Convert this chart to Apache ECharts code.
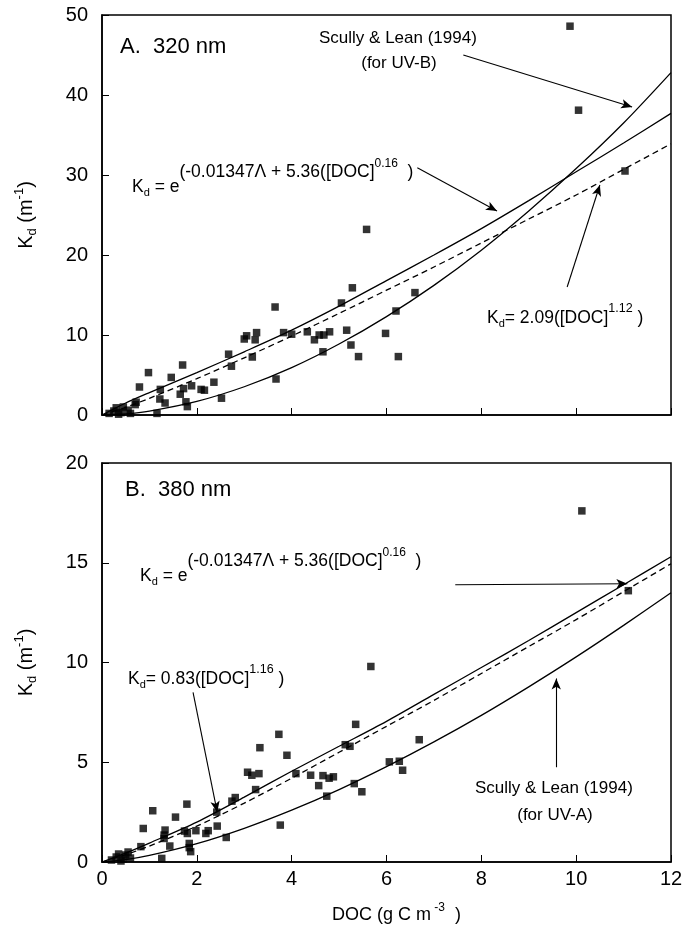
<!DOCTYPE html>
<html>
<head>
<meta charset="utf-8">
<script src="https://cdn.jsdelivr.net/npm/echarts@6/dist/echarts.min.js"></script>
<style>
  html, body { margin: 0; padding: 0; background: #fff; }
  #chart { width: 700px; height: 941px; }
</style>
</head>
<body>
<div id="chart"></div>
<script>
const FONT = '"Liberation Sans", Arial, Helvetica, sans-serif';

const curveDoc = [0, 0.5, 1, 2, 3, 4, 5, 6, 7, 8, 9, 10, 11, 12];

// panel A, 320 nm
const expA = [0, 1.5, 2.8, 5.3, 7.9, 10.6, 13.6, 16.8, 20.0, 23.3, 26.8, 30.4, 34.0, 37.7];
const powA = [0, 0.96, 2.09, 4.54, 7.15, 9.87, 12.7, 15.6, 18.5, 21.5, 24.5, 27.5, 30.7, 33.9];
const scullyA = [0, 0.14, 0.49, 1.70, 3.53, 5.92, 8.87, 12.3, 16.2, 20.6, 25.5, 30.8, 36.5, 42.8];
const pointsA = [
  [0.15, 0.2], [0.25, 0.5], [0.3, 0.9], [0.4, 0.3], [0.45, 1.0], [0.55, 0.6], [0.6, 0.2], [0.7, 1.3], [0.35, 0.1],
  [0.72, 1.6], [0.79, 3.5], [0.98, 5.3], [1.16, 0.2], [1.22, 2.0], [1.23, 3.2], [1.33, 1.5], [1.46, 4.7],
  [1.65, 2.6], [1.70, 6.25], [1.72, 3.3], [1.77, 1.65], [1.80, 1.05], [1.89, 3.65], [2.09, 3.2], [2.16, 3.1],
  [2.36, 4.1], [2.52, 2.1], [2.67, 7.6], [2.73, 6.1], [3.0, 9.5], [3.05, 9.9], [3.17, 7.25], [3.23, 9.4],
  [3.26, 10.3], [3.65, 13.5], [3.67, 4.5], [3.83, 10.3], [4.0, 10.1], [4.33, 10.4], [4.48, 9.4], [4.58, 10.0],
  [4.66, 7.9], [4.68, 10.0], [4.80, 10.4], [5.05, 14.0], [5.16, 10.6], [5.25, 8.75], [5.28, 15.9], [5.41, 7.3],
  [5.58, 23.2], [5.98, 10.2], [6.20, 13.0], [6.25, 7.3], [6.60, 15.3], [9.87, 48.6], [10.05, 38.1], [11.03, 30.5]
];

// panel B, 380 nm
const expB = [0, 0.45, 0.95, 2.0, 3.25, 4.55, 5.8, 7.05, 8.4, 9.75, 11.1, 12.5, 13.9, 15.3];
const powB = [0, 0.37, 0.8, 1.8, 2.95, 4.2, 5.5, 6.8, 8.1, 9.45, 10.8, 12.15, 13.55, 14.95];
const scullyB = [0, 0.12, 0.33, 0.92, 1.69, 2.6, 3.63, 4.78, 6.02, 7.35, 8.78, 10.28, 11.86, 13.5];
const pointsB = [
  [0.2, 0.1], [0.3, 0.25], [0.35, 0.4], [0.45, 0.15], [0.5, 0.35], [0.6, 0.2], [0.4, 0.05], [0.55, 0.5],
  [0.82, 0.77], [0.87, 1.68], [1.07, 2.57], [1.26, 0.18], [1.31, 1.18], [1.31, 1.35], [1.33, 1.6], [1.43, 0.8],
  [1.55, 2.25], [1.74, 1.55], [1.79, 2.9], [1.80, 1.43], [1.84, 0.93], [1.84, 0.72], [1.87, 0.52], [1.98, 1.57],
  [2.19, 1.43], [2.24, 1.57], [2.42, 2.5], [2.43, 1.8], [2.62, 1.23], [2.74, 3.05], [2.81, 3.23], [3.07, 4.5],
  [3.16, 4.35], [3.24, 3.63], [3.31, 4.43], [3.33, 5.73], [3.73, 6.4], [3.76, 1.85], [3.90, 5.35], [4.09, 4.43],
  [4.40, 4.35], [4.57, 3.83], [4.66, 4.33], [4.74, 3.3], [4.79, 4.2], [4.88, 4.27], [5.13, 5.88], [5.23, 5.8],
  [5.32, 3.93], [5.35, 6.9], [5.48, 3.52], [5.67, 9.8], [6.06, 5.02], [6.27, 5.05], [6.34, 4.6], [6.69, 6.13],
  [10.12, 17.6], [11.1, 13.6]
];

// annotation arrows, [from, to] in data units
const arrowsA = [
  [[7.62, 45.0], [11.18, 38.5]],
  [[6.65, 30.9], [8.33, 25.5]],
  [[9.81, 16.0], [10.5, 28.75]]
];
const arrowsB = [
  [[7.45, 13.9], [11.08, 13.95]],
  [[1.92, 8.5], [2.43, 2.5]],
  [[9.58, 4.75], [9.58, 9.2]]
];

const pair = (xs, ys) => xs.map((x, i) => [x, ys[i]]);

const rich = {
  m: { fontSize: 17.5, fontFamily: FONT, color: '#000' },
  sub: { fontSize: 11, fontFamily: FONT, color: '#000', padding: [11, 0, 0, 0] },
  sp: { fontSize: 17.5, fontFamily: FONT, color: '#000', padding: [0, 0, 30, 0] },
  ss: { fontSize: 12, fontFamily: FONT, color: '#000', padding: [0, 0, 46, 0] },
  s2: { fontSize: 12.5, fontFamily: FONT, color: '#000', padding: [0, 0, 18, 0] }
};
const axisRich = {
  m: { fontSize: 20, fontFamily: FONT, color: '#000' },
  sub: { fontSize: 13, fontFamily: FONT, color: '#000', padding: [12, 0, 0, 0] },
  sup: { fontSize: 13, fontFamily: FONT, color: '#000', padding: [0, 0, 14, 0] }
};

const expText = '{m|K}{sub|d}{m| = e}{sp|(-0.01347Λ + 5.36([DOC]}{ss|0.16}{sp|  )}';

function txt(x, y, text, size, align) {
  return {
    type: 'text', x: x, y: y, silent: true,
    style: { text: text, rich: rich, font: size + 'px ' + FONT, fill: '#000',
             align: align || 'left', verticalAlign: 'middle' }
  };
}

function curve(x, y, data, dashed) {
  return {
    type: 'line', xAxisIndex: x, yAxisIndex: y, data: data, smooth: 0.3,
    showSymbol: false, silent: true,
    lineStyle: { color: '#000', width: 1.3, type: dashed ? [6, 4] : 'solid' }
  };
}

function arrows(list) {
  return {
    silent: true, symbol: ['none', 'arrow'], symbolSize: [7, 11],
    label: { show: false },
    lineStyle: { color: '#000', width: 1.1, type: 'solid' },
    data: list.map(a => [{ coord: a[0] }, { coord: a[1] }])
  };
}

const xAxisBase = {
  type: 'value', min: 0, max: 12, interval: 2,
  axisLine: { lineStyle: { color: '#000', width: 1.5 } },
  axisTick: { inside: true, length: 7, lineStyle: { color: '#000' } },
  splitLine: { show: false }
};
const yAxisBase = {
  type: 'value', min: 0,
  axisLine: { show: true, lineStyle: { color: '#000', width: 1.5 } },
  axisTick: { show: true, inside: true, length: 7, lineStyle: { color: '#000' } },
  axisLabel: { fontSize: 20, fontFamily: FONT, color: '#000', margin: 14 },
  splitLine: { show: false },
  name: '{m|K}{sub|d}{m| (m}{sup|-1}{m|)}', nameLocation: 'middle', nameGap: 62,
  nameTextStyle: { rich: axisRich }
};

const chart = echarts.init(document.getElementById('chart'));
chart.setOption({
  animation: false,
  backgroundColor: '#fff',
  grid: [
    { left: 102, top: 15, width: 569, height: 400, show: true, borderColor: '#000', borderWidth: 1.5 },
    { left: 102, top: 463, width: 569, height: 399, show: true, borderColor: '#000', borderWidth: 1.5 }
  ],
  xAxis: [
    Object.assign({}, xAxisBase, { gridIndex: 0, axisLabel: { show: false } }),
    Object.assign({}, xAxisBase, {
      gridIndex: 1,
      axisLabel: { fontSize: 20, fontFamily: FONT, color: '#000', margin: 7 },
      name: '{m|DOC (g C m}{sup| -3}{m|  )}', nameLocation: 'middle', nameGap: 40,
      nameTextStyle: { rich: { m: { fontSize: 18, fontFamily: FONT, color: '#000' },
                               sup: { fontSize: 12, fontFamily: FONT, color: '#000', padding: [0, 0, 14, 0] } },
                       padding: [0, 0, 0, 20] }
    })
  ],
  yAxis: [
    Object.assign({}, yAxisBase, { gridIndex: 0, max: 50, interval: 10 }),
    Object.assign({}, yAxisBase, { gridIndex: 1, max: 20, interval: 5 })
  ],
  series: [
    curve(0, 0, pair(curveDoc, expA), false),
    curve(0, 0, pair(curveDoc, powA), true),
    curve(0, 0, pair(curveDoc, scullyA), false),
    {
      type: 'scatter', xAxisIndex: 0, yAxisIndex: 0, data: pointsA,
      symbol: 'rect', symbolSize: 7.5, itemStyle: { color: '#000' }, silent: true,
      markLine: arrows(arrowsA)
    },
    curve(1, 1, pair(curveDoc, expB), false),
    curve(1, 1, pair(curveDoc, powB), true),
    curve(1, 1, pair(curveDoc, scullyB), false),
    {
      type: 'scatter', xAxisIndex: 1, yAxisIndex: 1, data: pointsB,
      symbol: 'rect', symbolSize: 7.5, itemStyle: { color: '#000' }, silent: true,
      markLine: arrows(arrowsB)
    }
  ],
  graphic: [
    txt(120, 47, 'A.  320 nm', 22),
    txt(319, 38, 'Scully & Lean (1994)', 17),
    txt(399, 63, '(for UV-B)', 17, 'center'),
    txt(132, 187, expText, 17.5),
    txt(487, 318, '{m|K}{sub|d}{m|= 2.09([DOC]}{s2|1.12}{m| )}', 17.5),
    txt(125, 490, 'B.  380 nm', 22),
    txt(140, 576, expText, 17.5),
    txt(128, 679, '{m|K}{sub|d}{m|= 0.83([DOC]}{s2|1.16}{m| )}', 17.5),
    txt(475, 788, 'Scully & Lean (1994)', 17),
    txt(555, 815, '(for UV-A)', 17, 'center')
  ]
});
</script>
</body>
</html>
